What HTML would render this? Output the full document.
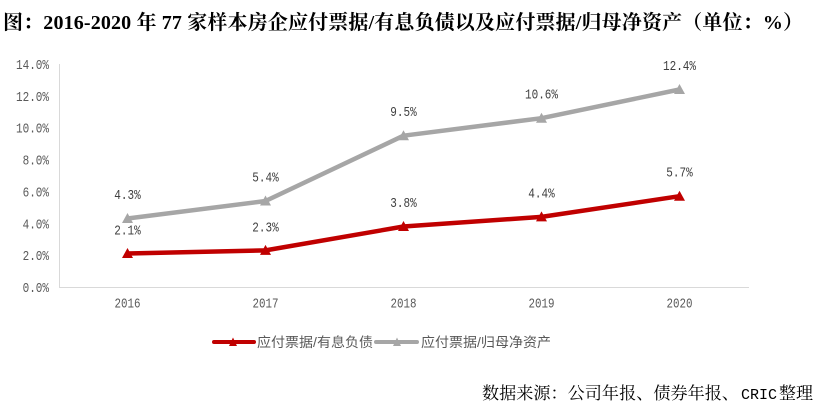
<!DOCTYPE html>
<html>
<head>
<meta charset="utf-8">
<style>
  html,body{margin:0;padding:0;background:#fff;}
  body{width:825px;height:409px;overflow:hidden;}
  svg{display:block;}
  .tick{font-family:"Liberation Mono","Noto Sans CJK SC",monospace;font-size:14px;fill:#595959;}
  .dl{font-family:"Liberation Mono","Noto Sans CJK SC",monospace;font-size:14px;fill:#404040;}
  .title{font-family:"Liberation Serif","Noto Serif CJK SC",serif;font-size:20px;font-weight:bold;fill:#000;}
  .leg{font-family:"Liberation Sans","Noto Sans CJK SC",sans-serif;font-size:13.5px;fill:#595959;}
  .src{font-family:"Liberation Serif","Noto Serif CJK SC",serif;font-size:17px;fill:#000;}
</style>
</head>
<body>
<svg width="825" height="409" viewBox="0 0 825 409" xmlns="http://www.w3.org/2000/svg">
  <rect x="0" y="0" width="825" height="409" fill="#fff"/>
  <!-- Title -->
  <text class="title" x="3" y="29" textLength="800" lengthAdjust="spacing">图：2016-2020 年 77 家样本房企应付票据/有息负债以及应付票据/归母净资产（单位：%）</text>

  <!-- Axes -->
  <line x1="59.5" y1="64" x2="59.5" y2="287.5" stroke="#d9d9d9" stroke-width="1"/>
  <line x1="59" y1="287.5" x2="749" y2="287.5" stroke="#d9d9d9" stroke-width="1"/>

  <!-- Y tick labels -->
  <text class="tick" x="49" y="292" text-anchor="end" textLength="26.4" lengthAdjust="spacingAndGlyphs">0.0%</text>
  <text class="tick" x="49" y="260.1" text-anchor="end" textLength="26.4" lengthAdjust="spacingAndGlyphs">2.0%</text>
  <text class="tick" x="49" y="228.3" text-anchor="end" textLength="26.4" lengthAdjust="spacingAndGlyphs">4.0%</text>
  <text class="tick" x="49" y="196.5" text-anchor="end" textLength="26.4" lengthAdjust="spacingAndGlyphs">6.0%</text>
  <text class="tick" x="49" y="164.5" text-anchor="end" textLength="26.4" lengthAdjust="spacingAndGlyphs">8.0%</text>
  <text class="tick" x="49" y="132.5" text-anchor="end" textLength="33" lengthAdjust="spacingAndGlyphs">10.0%</text>
  <text class="tick" x="49" y="100.9" text-anchor="end" textLength="33" lengthAdjust="spacingAndGlyphs">12.0%</text>
  <text class="tick" x="49" y="69" text-anchor="end" textLength="33" lengthAdjust="spacingAndGlyphs">14.0%</text>

  <!-- X labels -->
  <text class="tick" x="127.5" y="307.5" text-anchor="middle" textLength="26" lengthAdjust="spacingAndGlyphs">2016</text>
  <text class="tick" x="265.5" y="307.5" text-anchor="middle" textLength="26" lengthAdjust="spacingAndGlyphs">2017</text>
  <text class="tick" x="403.5" y="307.5" text-anchor="middle" textLength="26" lengthAdjust="spacingAndGlyphs">2018</text>
  <text class="tick" x="541.5" y="307.5" text-anchor="middle" textLength="26" lengthAdjust="spacingAndGlyphs">2019</text>
  <text class="tick" x="679.5" y="307.5" text-anchor="middle" textLength="26" lengthAdjust="spacingAndGlyphs">2020</text>

  <!-- Gray series -->
  <polyline points="127.5,218.5 265.5,201 403.5,135.7 541.5,118.2 679.5,89.5" fill="none" stroke="#A6A6A6" stroke-width="4.5" stroke-linejoin="round" stroke-linecap="round"/>
  <g fill="#A6A6A6">
    <polygon points="122,223 133,223 127.5,213"/>
    <polygon points="260,205.5 271,205.5 265.5,195.5"/>
    <polygon points="398,140.2 409,140.2 403.5,130.2"/>
    <polygon points="536,122.7 547,122.7 541.5,112.7"/>
    <polygon points="674,94 685,94 679.5,84"/>
  </g>
  <!-- Red series -->
  <polyline points="127.5,253.5 265.5,250.4 403.5,226.5 541.5,216.9 679.5,196.2" fill="none" stroke="#C00000" stroke-width="4.5" stroke-linejoin="round" stroke-linecap="round"/>
  <g fill="#C00000">
    <polygon points="122,258 133,258 127.5,248"/>
    <polygon points="260,254.9 271,254.9 265.5,244.9"/>
    <polygon points="398,231 409,231 403.5,221"/>
    <polygon points="536,221.4 547,221.4 541.5,211.4"/>
    <polygon points="674,200.7 685,200.7 679.5,190.7"/>
  </g>

  <!-- Data labels gray -->
  <text class="dl" x="127.5" y="199" text-anchor="middle" textLength="26.4" lengthAdjust="spacingAndGlyphs">4.3%</text>
  <text class="dl" x="265.5" y="181.5" text-anchor="middle" textLength="26.4" lengthAdjust="spacingAndGlyphs">5.4%</text>
  <text class="dl" x="403.5" y="116.2" text-anchor="middle" textLength="26.4" lengthAdjust="spacingAndGlyphs">9.5%</text>
  <text class="dl" x="541.5" y="98.7" text-anchor="middle" textLength="33" lengthAdjust="spacingAndGlyphs">10.6%</text>
  <text class="dl" x="679.5" y="70" text-anchor="middle" textLength="33" lengthAdjust="spacingAndGlyphs">12.4%</text>
  <!-- Data labels red -->
  <text class="dl" x="127.5" y="234.5" text-anchor="middle" textLength="26.4" lengthAdjust="spacingAndGlyphs">2.1%</text>
  <text class="dl" x="265.5" y="231.5" text-anchor="middle" textLength="26.4" lengthAdjust="spacingAndGlyphs">2.3%</text>
  <text class="dl" x="403.5" y="207" text-anchor="middle" textLength="26.4" lengthAdjust="spacingAndGlyphs">3.8%</text>
  <text class="dl" x="541.5" y="197.4" text-anchor="middle" textLength="26.4" lengthAdjust="spacingAndGlyphs">4.4%</text>
  <text class="dl" x="679.5" y="176.7" text-anchor="middle" textLength="26.4" lengthAdjust="spacingAndGlyphs">5.7%</text>

  <!-- Legend -->
  <line x1="214" y1="342" x2="254" y2="342" stroke="#C00000" stroke-width="4" stroke-linecap="round"/>
  <polygon points="229,346 237,346 233,337.5" fill="#C00000"/>
  <text class="leg" x="257" y="347" textLength="116" lengthAdjust="spacingAndGlyphs">应付票据/有息负债</text>
  <line x1="376" y1="342" x2="417" y2="342" stroke="#A6A6A6" stroke-width="4" stroke-linecap="round"/>
  <polygon points="393,346 401,346 397,337.5" fill="#A6A6A6"/>
  <text class="leg" x="421" y="347" textLength="130" lengthAdjust="spacingAndGlyphs">应付票据/归母净资产</text>

  <!-- Source -->
  <text class="src" x="482" y="399" textLength="257" lengthAdjust="spacingAndGlyphs">数据来源：公司年报、债券年报、</text>
  <text x="741" y="399" font-family="Liberation Mono, monospace" font-size="15" fill="#000" textLength="36" lengthAdjust="spacingAndGlyphs">CRIC</text>
  <text class="src" x="779" y="399" textLength="34" lengthAdjust="spacingAndGlyphs">整理</text>
</svg>
</body>
</html>
